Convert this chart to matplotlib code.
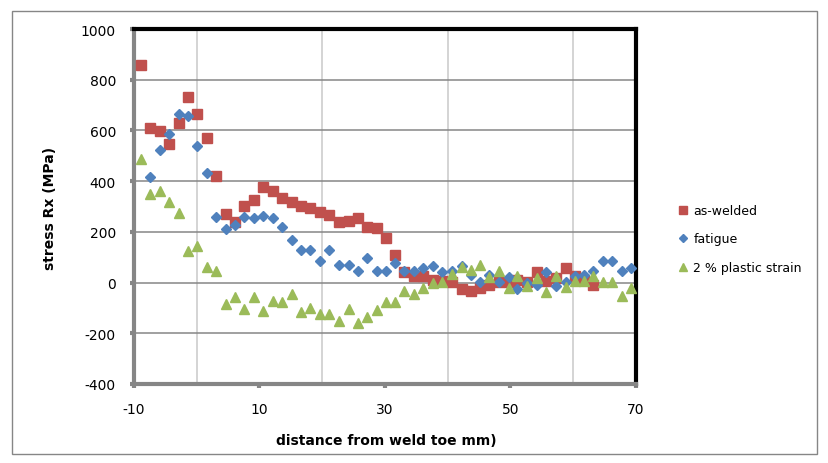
"""Residual stress Rx vs distance from weld toe: as-welded, fatigue, 2 % plastic strain."""

import matplotlib

matplotlib.use("Agg")
import matplotlib.pyplot as plt
from matplotlib.lines import Line2D
from matplotlib.patches import Rectangle

# distance from weld toe (mm), one measuring grid shared by the series
distance = [
    -8.9, -7.4, -5.9, -4.4, -2.9, -1.4, 0.1, 1.6, 3.1, 4.6, 6.1, 7.6, 9.1,
    10.6, 12.1, 13.6, 15.1, 16.6, 18.1, 19.6, 21.1, 22.7, 24.2, 25.7, 27.2,
    28.7, 30.2, 31.6, 33.1, 34.6, 36.1, 37.6, 39.1, 40.6, 42.2, 43.7, 45.2,
    46.6, 48.2, 49.7, 51.1, 52.7, 54.2, 55.7, 57.2, 58.8, 60.2, 61.7, 63.2,
    64.8, 66.2, 67.7, 69.2,
]

# as-welded: first 49 grid points
as_welded = [
    858, 610, 599, 546, 628, 731, 664, 569, 420, 271, 240, 303, 327,
    378, 363, 335, 319, 303, 296, 277, 268, 240, 243, 255, 218,
    217, 175, 109, 41, 25, 27, 10, 5, 4, -25, -33, -23,
    -11, 1, 1, 10, 4, 41, 8, 20, 56, 25, 10, -8,
]

# fatigue: starts at the second grid point
fatigue = [
    416, 523, 587, 666, 655, 539, 432, 260, 211, 227, 258, 256,
    264, 254, 219, 169, 129, 130, 84, 130, 71, 68, 45, 96,
    46, 47, 77, 47, 45, 58, 67, 40, 47, 67, 30, 1,
    30, 1, 21, -25, -1, -8, 41, -15, 1, 25, 30, 45,
    85, 84, 47, 58,
]

plastic = [
    488, 348, 360, 319, 276, 125, 146, 60, 45, -86, -56, -103, -57,
    -113, -73, -75, -46, -115, -99, -123, -123, -151, -104, -158, -134,
    -108, -78, -75, -32, -44, -22, -3, 1, 34, 63, 51, 69,
    21, 47, -22, 26, -12, 18, -36, 25, -19, 5, 8, 27,
    1, 1, -52, -21,
]

labels = ["as-welded", "fatigue", "2 % plastic strain"]
x_ticks = [-10, 10, 30, 50, 70]
y_ticks = [-400, -200, 0, 200, 400, 600, 800, 1000]

RED = "#C0504D"
BLUE = "#4F81BD"
GREEN = "#9BBB59"
AXIS_GRAY = "#868686"


def main() -> None:
    plt.rcParams["axes.unicode_minus"] = False
    W, H = 829, 464
    fig = plt.figure(figsize=(W / 100, H / 100), dpi=100)

    # outer chart frame
    fig.patches.append(Rectangle((12 / W, 1 - 455 / H), 805 / W, 443 / H,
                                 transform=fig.transFigure, fill=False,
                                 edgecolor=AXIS_GRAY, linewidth=1))

    ax = fig.add_axes([134 / W, 1 - 385 / H, 502 / W, 355 / H])
    ax.plot(distance[:len(as_welded)], as_welded, ls="none", marker="s",
            ms=6.8, color=RED, mec=RED, zorder=3)
    ax.plot(distance[1:1 + len(fatigue)], fatigue, ls="none", marker="D",
            ms=5.2, color=BLUE, mec=BLUE, zorder=3)
    ax.plot(distance[:len(plastic)], plastic, ls="none", marker="^",
            ms=7.5, color=GREEN, mec=GREEN, zorder=3)

    ax.set_xlim(-10, 70)
    ax.set_ylim(-400, 1000)
    ax.set_xticks(x_ticks)
    ax.set_yticks(y_ticks)
    ax.set_xticks(range(0, 70, 10), minor=True)

    ax.grid(axis="y", which="major", color=AXIS_GRAY, lw=1.1)
    ax.grid(axis="x", which="minor", color="#D4D4D4", lw=1.4)
    ax.set_axisbelow(True)

    for side in ("left", "bottom"):
        ax.spines[side].set_color(AXIS_GRAY)
        ax.spines[side].set_linewidth(3)
    for side in ("top", "right"):
        ax.spines[side].set_color("black")
        ax.spines[side].set_linewidth(3)

    ax.tick_params(axis="both", which="major", length=3, width=3,
                   color=AXIS_GRAY, labelsize=10, pad=10)
    ax.tick_params(axis="x", which="minor", length=0)

    fig.text(50 / W, 1 - 208 / H, "stress Rx (MPa)", rotation=90,
             ha="center", va="center", fontsize=10, fontweight="bold")
    fig.text(386 / W, 1 - 441 / H, "distance from weld toe mm)",
             ha="center", va="center", fontsize=10, fontweight="bold")

    handles = [
        Line2D([], [], ls="none", marker="s", ms=5.5, color=RED),
        Line2D([], [], ls="none", marker="D", ms=4, color=BLUE),
        Line2D([], [], ls="none", marker="^", ms=6, color=GREEN),
    ]
    fig.legend(handles, labels, loc="center left",
               bbox_to_anchor=(672 / W, 1 - 240 / H), frameon=False,
               fontsize=9, handlelength=0.8, handletextpad=0.4,
               labelspacing=1.25, borderpad=0)

    fig.savefig("out.png", dpi=100)
    plt.close(fig)


if __name__ == "__main__":
    main()
